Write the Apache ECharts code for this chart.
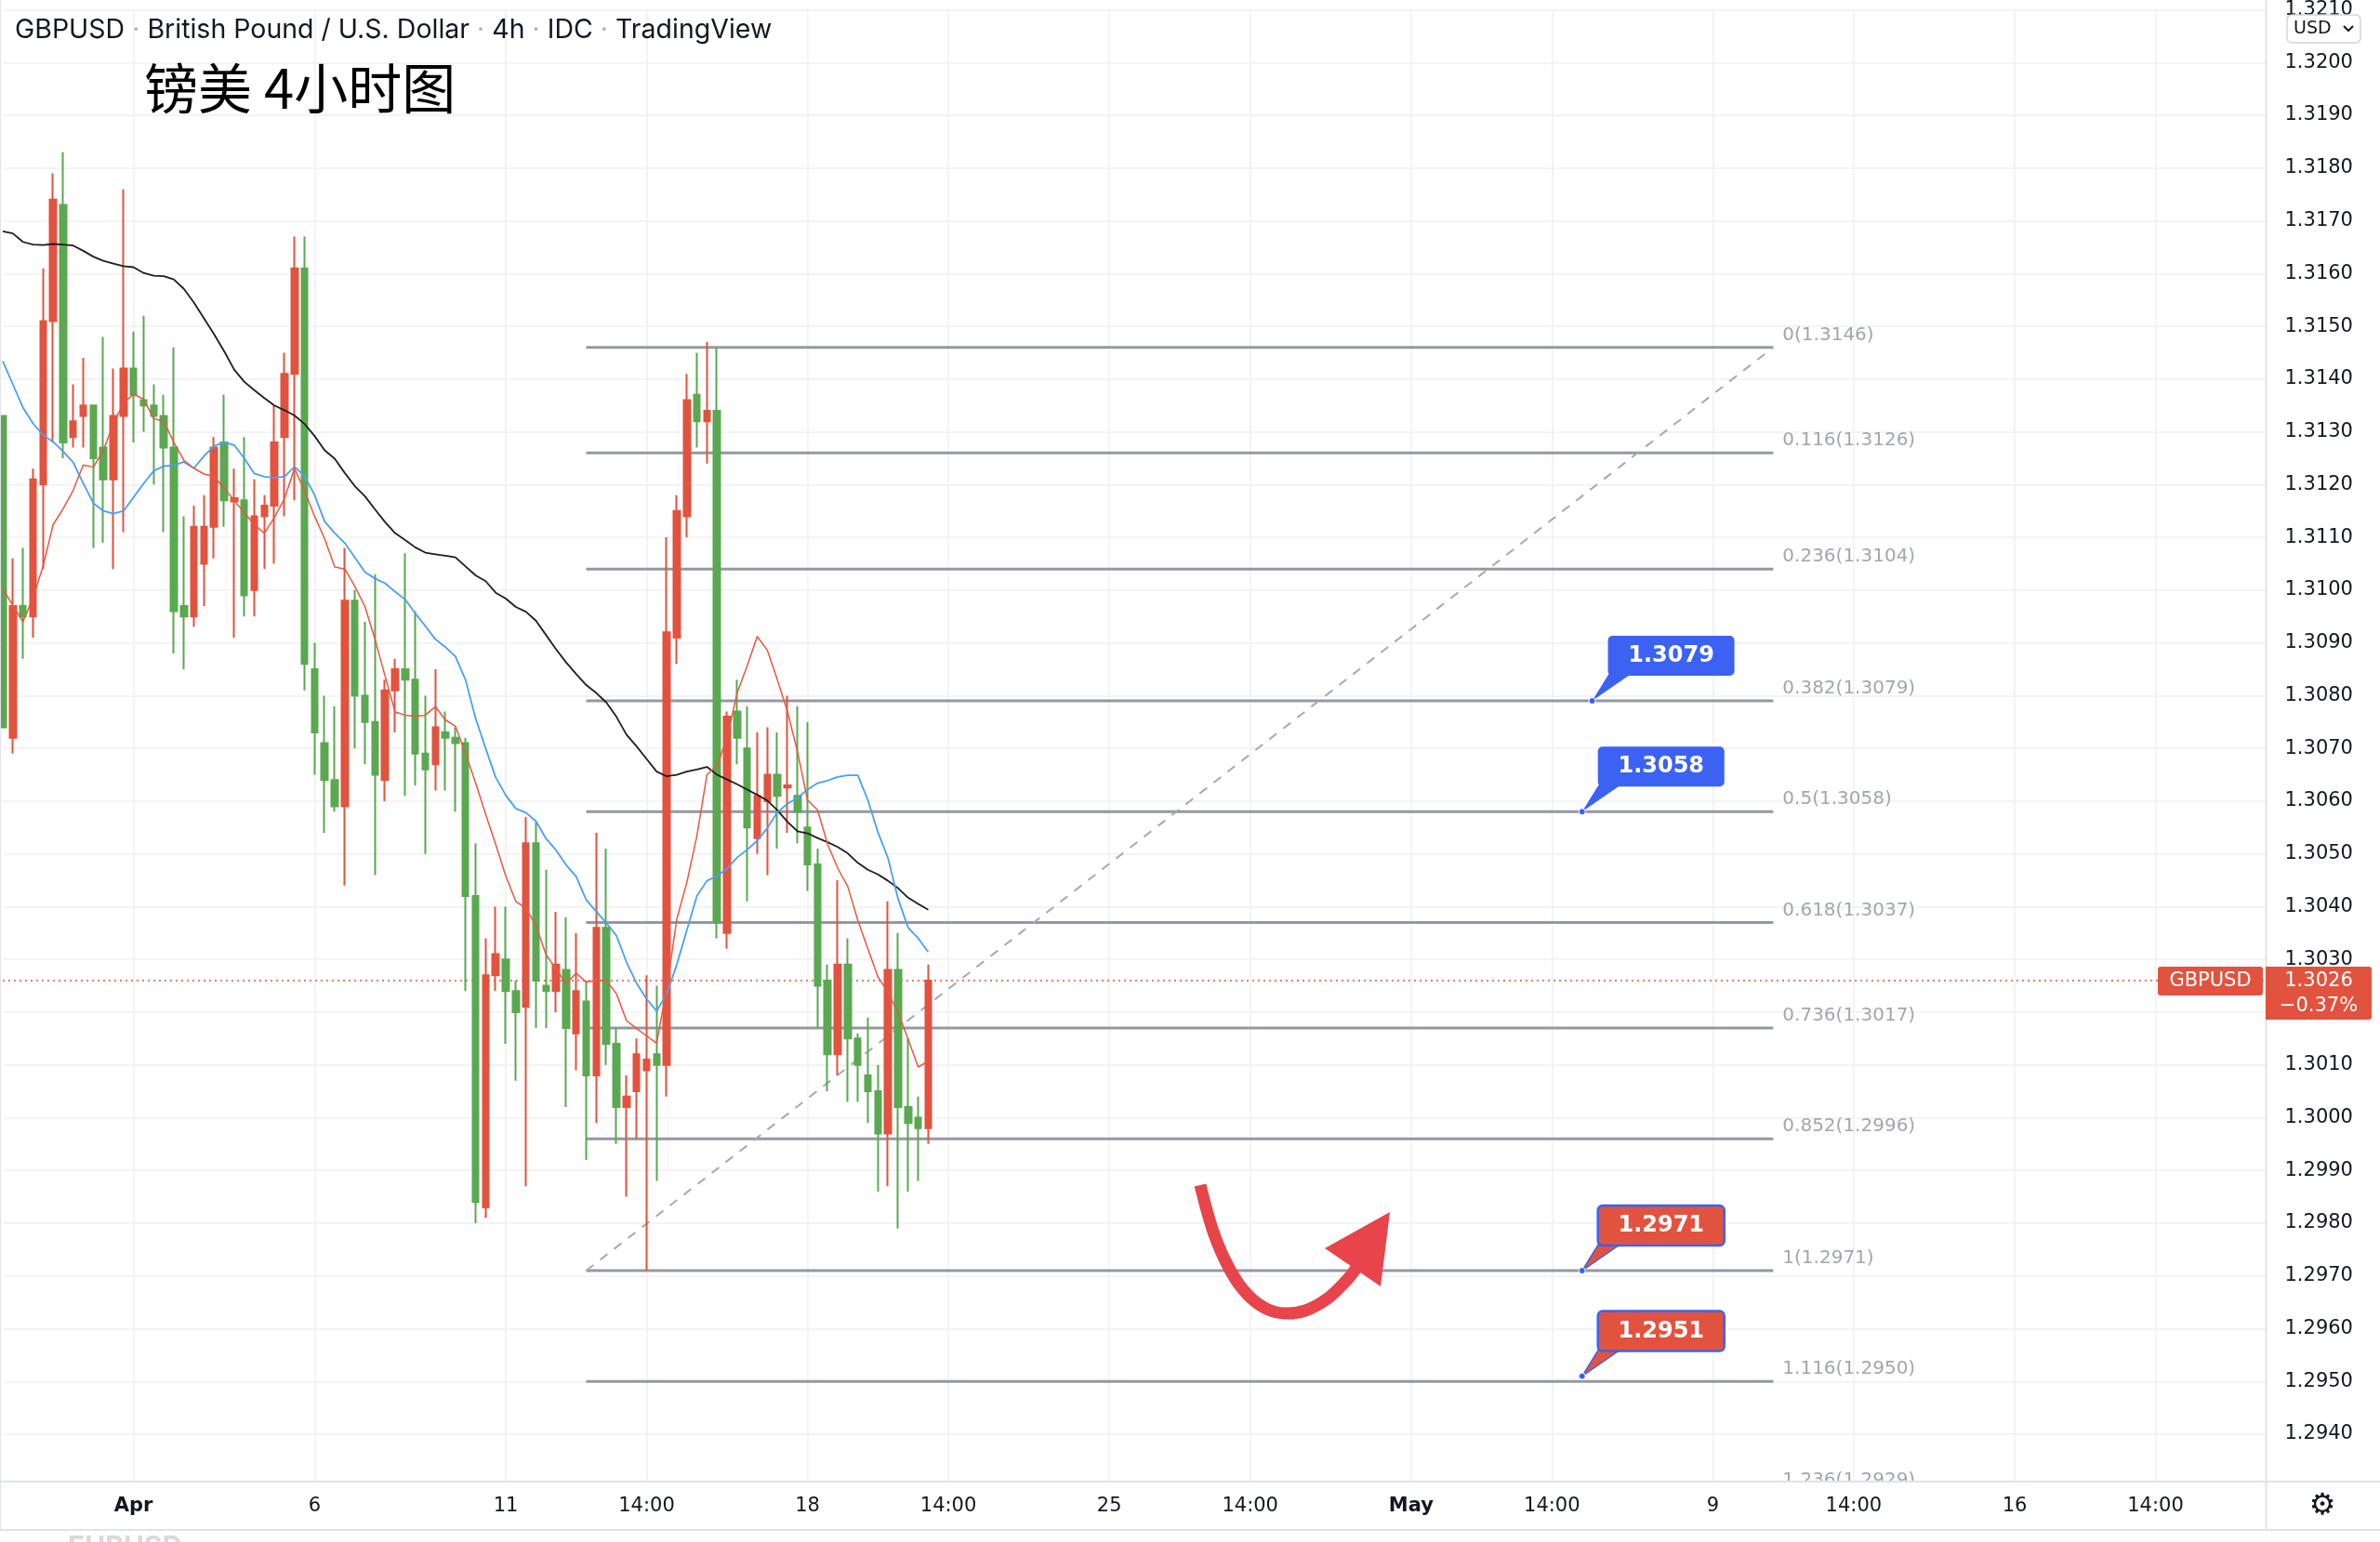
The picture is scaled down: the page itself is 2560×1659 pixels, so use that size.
<!DOCTYPE html>
<html><head><meta charset="utf-8">
<script src="https://cdn.jsdelivr.net/npm/echarts@6/dist/echarts.min.js"></script>
<style>html,body{margin:0;padding:0;background:#fff;overflow:hidden}#c{width:2560px;height:1659px}</style>
</head><body><div id="c"></div>
<script>
// ---------- DATA ----------
const opens = [1.3133,1.3072,1.3097,1.3095,1.3120,1.3151,1.3173,1.3129,1.3133,1.3135,
1.3127,1.3121,1.3133,1.3142,1.3136,1.3135,1.3133,1.3127,1.3097,1.3095,
1.3105,1.3112,1.3128,1.31168,1.3117,1.3100,1.3114,1.3116,1.3129,1.3141,
1.3161,1.3085,1.3071,1.3064,1.3059,1.3098,1.3080,1.3075,1.3064,1.3081,
1.3085,1.3083,1.3069,1.3067,1.3073,1.3072,1.3071,1.3042,1.2983,1.3027,
1.3030,1.3024,1.3021,1.3052,1.3025,1.3024,1.3028,1.3016,1.3022,1.3008,
1.3036,1.3014,1.3002,1.3005,1.3009,1.3012,1.3010,1.3091,1.3114,1.3137,
1.3132,1.3134,1.3035,1.3077,1.3070,1.3053,1.3060,1.3065,1.30626,1.3061,
1.3055,1.3048,1.3026,1.3012,1.3029,1.3015,1.3008,1.3005,1.2997,1.3028,
1.3002,1.3000,1.2998];
const closes = [1.3074,1.3097,1.3095,1.3121,1.3151,1.3174,1.3128,1.3132,1.3135,1.3125,
1.3121,1.3133,1.3142,1.3137,1.3135,1.3133,1.3127,1.3096,1.3095,1.3112,
1.3112,1.3127,1.3117,1.31174,1.3099,1.3114,1.3116,1.3128,1.3141,1.3161,
1.3086,1.3073,1.3064,1.3059,1.3098,1.3080,1.3075,1.3065,1.3081,1.3085,
1.3083,1.3069,1.3066,1.3074,1.3072,1.3071,1.3042,1.2984,1.3027,1.3031,
1.3024,1.3020,1.3052,1.3026,1.3024,1.3029,1.3017,1.3024,1.3008,1.3036,
1.3014,1.3002,1.3004,1.3012,1.3011,1.3010,1.3092,1.3115,1.3136,1.3132,
1.3134,1.3037,1.3076,1.3072,1.3055,1.3061,1.3065,1.3061,1.3063,1.3058,
1.3048,1.3025,1.3012,1.3029,1.3015,1.3010,1.3005,1.2997,1.3028,1.3002,
1.2999,1.2998,1.3026];
const lows = [1.3074,1.3069,1.3087,1.3091,1.3104,1.3128,1.3125,1.3127,1.3127,1.3108,
1.3109,1.3104,1.3111,1.3128,1.3130,1.3120,1.3111,1.3088,1.3085,1.3093,
1.3097,1.3106,1.3112,1.3091,1.3095,1.3095,1.3104,1.3105,1.3114,1.3117,
1.3081,1.3065,1.3054,1.3058,1.3044,1.3070,1.3067,1.3046,1.3060,1.3073,
1.3061,1.3063,1.3050,1.3062,1.3062,1.3058,1.3024,1.2980,1.2981,1.3024,
1.3014,1.3007,1.2987,1.3017,1.3017,1.3020,1.3002,1.3009,1.2992,1.2999,
1.3010,1.2995,1.2985,1.2996,1.2971,1.2988,1.3004,1.3086,1.3110,1.3127,
1.3124,1.3034,1.3032,1.3067,1.3041,1.3050,1.3046,1.3051,1.3054,1.3052,
1.3043,1.3017,1.3005,1.3008,1.3003,1.3003,1.2999,1.2986,1.2987,1.2979,
1.2986,1.2988,1.2995];
const highs = [1.3133,1.3106,1.3108,1.3123,1.3161,1.3179,1.3183,1.3139,1.3144,1.3135,
1.3148,1.3142,1.3176,1.3149,1.3152,1.3139,1.3137,1.3146,1.3114,1.3116,
1.3118,1.3129,1.3137,1.3123,1.3129,1.3121,1.3118,1.3135,1.3145,1.3167,
1.3167,1.3090,1.3080,1.3078,1.3108,1.3100,1.3094,1.3103,1.3083,1.3087,
1.3107,1.3096,1.3080,1.3085,1.3077,1.3074,1.3072,1.3052,1.3034,1.3040,
1.3040,1.3026,1.3057,1.3056,1.3047,1.3039,1.3038,1.3035,1.3026,1.3054,
1.3051,1.3017,1.3008,1.3015,1.3027,1.3025,1.3110,1.3118,1.3141,1.3145,
1.3147,1.3146,1.3077,1.3083,1.3078,1.3073,1.3074,1.3073,1.3080,1.3078,
1.3075,1.3051,1.3029,1.3045,1.3034,1.3016,1.3019,1.3010,1.3041,1.3035,
1.3015,1.3004,1.3029];
const maSlow = [1.3168,1.31676,1.3166,1.31655,1.31654,1.31656,1.31655,1.31653,1.31643,1.31632,
1.31624,1.31619,1.31614,1.31612,1.31601,1.31596,1.31595,1.31589,1.31571,1.31545,
1.31515,1.31485,1.31453,1.31418,1.31395,1.31379,1.31364,1.3135,1.31341,1.31331,
1.31315,1.31292,1.31265,1.31249,1.31222,1.31197,1.31178,1.31153,1.31129,1.31108,
1.31095,1.31081,1.31071,1.31068,1.31065,1.31062,1.31045,1.31028,1.31017,1.30995,
1.30984,1.30968,1.30959,1.30942,1.30915,1.30888,1.30863,1.30841,1.3082,1.30805,
1.30787,1.3076,1.30726,1.30704,1.3068,1.30656,1.30647,1.3065,1.30656,1.3066,
1.30665,1.3065,1.30641,1.30632,1.30622,1.30612,1.30601,1.30583,1.30561,1.30543,
1.30539,1.3053,1.30522,1.30513,1.30501,1.30483,1.3047,1.30461,1.30449,1.30435,
1.30417,1.30405,1.30394];
const maMid = [1.31434,1.3139,1.31346,1.31316,1.31294,1.31281,1.31263,1.31242,1.31202,1.31165,
1.3115,1.31145,1.3115,1.31176,1.31202,1.31226,1.31235,1.31236,1.31243,1.31231,
1.31254,1.31273,1.3128,1.31275,1.3125,1.31221,1.31215,1.31213,1.31215,1.31234,
1.31216,1.3118,1.3113,1.31108,1.31089,1.31062,1.31034,1.31022,1.31013,1.30997,
1.30982,1.30956,1.30932,1.30907,1.30892,1.30874,1.3083,1.30757,1.307,1.30645,
1.30611,1.30586,1.30578,1.30562,1.30529,1.30507,1.30479,1.30457,1.30413,1.30391,
1.30369,1.30345,1.30295,1.30255,1.30225,1.30202,1.30235,1.3029,1.30355,1.3042,
1.30449,1.30458,1.30472,1.30493,1.30508,1.30525,1.30549,1.30579,1.30595,1.30606,
1.30622,1.30634,1.30639,1.30646,1.30649,1.30649,1.30602,1.30541,1.30492,1.30415,
1.3036,1.3034,1.30314];
const maFast = [1.31002,1.30971,1.3094,1.30985,1.31045,1.31124,1.31154,1.31189,1.31237,1.31233,
1.31265,1.31315,1.31355,1.31371,1.31362,1.31325,1.3132,1.3128,1.31246,1.31231,
1.3122,1.31215,1.31193,1.3117,1.31147,1.31124,1.31108,1.31138,1.31173,1.31231,
1.31188,1.3114,1.31097,1.31044,1.3104,1.31007,1.30969,1.30907,1.30837,1.30769,
1.30763,1.30761,1.30763,1.30779,1.30754,1.30742,1.3069,1.30635,1.30575,1.30518,
1.30458,1.3041,1.30397,1.30364,1.30309,1.30282,1.30254,1.30274,1.30257,1.3026,
1.3026,1.30235,1.30184,1.30169,1.30155,1.30141,1.30245,1.30376,1.30446,1.30534,
1.3065,1.30667,1.3072,1.30805,1.30856,1.30912,1.30886,1.3083,1.3077,1.30694,
1.30602,1.30583,1.30518,1.30473,1.30438,1.30374,1.3032,1.30267,1.30237,1.30199,
1.30149,1.30096,1.30107];
const tickIndex = [13,31,50,64,80,94,110,124,140,154,170,184,200,214];
const tickText  = ['Apr','6','11','14:00','18','14:00','25','14:00','May','14:00','9','14:00','16','14:00'];
const fibRatios = ['0','0.116','0.236','0.382','0.5','0.618','0.736','0.852','1','1.116','1.236'];
const fibPrices = [1.3146,1.3126,1.3104,1.3079,1.3058,1.3037,1.3017,1.2996,1.2971,1.2950,1.2929];
const fibStart = 58, fibEnd = 176;
const calloutPrices = [1.3079,1.3058,1.2971,1.2951];
const calloutIndex  = [158,157,157,157];
const calloutKind   = ['blue','blue','red','red'];
const lastPrice = 1.3026, changeText = '\u22120.37%';
const priceTicks = {min:1.2930, max:1.3210, step:0.001};

// ---------- STYLE ----------
const RED='#e2533f', GREEN='#5aa851', BLUE_CALL='#3b62f2', FIBC='#9598a1', GRIDC='#eef0f4';
const FONT='Inter, "Noto Sans", sans-serif';
const AXF='"DejaVu Sans", sans-serif';
const N = 226;
const cats = new Array(N).fill('');
tickIndex.forEach((k,i)=>{cats[k]=tickText[i];});
const labelSet = new Set(tickIndex);

const chart = echarts.init(document.getElementById('c'), null, {renderer:'canvas', width:2560, height:1659});

const series = [];
// last price dotted line
series.push({type:'line', silent:true, symbol:'none', z:1,
  data:[[0,lastPrice],[N-1,lastPrice]],
  lineStyle:{color:RED, type:[2,4], width:1.5}});
fibPrices.forEach((p,i)=>{
  series.push({type:'line', silent:true, clip:false, symbol:'none', z:2,
    data:[[fibStart,p],[fibEnd,p]],
    lineStyle:{color:FIBC, width:3},
    endLabel:{show:true, formatter: fibRatios[i]+'('+p.toFixed(4)+')', color:'#a3a6af', fontSize:20, fontFamily:AXF, distance:10, offset:[0,-13]}
  });
});
series.push({type:'line', silent:true, symbol:'none', z:2,
  data:[[fibStart,fibPrices[8]],[fibEnd,fibPrices[0]]],
  lineStyle:{color:'#a6a9b0', width:2, type:[10,9]}});
series.push({type:'candlestick', z:3, barWidth:7,
  data: opens.map((o,i)=>[o, closes[i], lows[i], highs[i]]),
  itemStyle:{color:RED, color0:GREEN, borderColor:RED, borderColor0:GREEN, borderWidth:2}
});
series.push({type:'line', silent:true, symbol:'none', z:4, data:maSlow, lineStyle:{color:'#1e1e1e', width:1.8}});
series.push({type:'line', silent:true, symbol:'none', z:4, data:maMid, lineStyle:{color:'#4c9ff2', width:1.8}});
series.push({type:'line', silent:true, symbol:'none', z:4, data:maFast, lineStyle:{color:'#e9573f', width:1.5}});

chart.setOption({
  animation:false,
  backgroundColor:'#ffffff',
  grid:{left:0, right:122.5, top:5.045, bottom:59.2},
  xAxis:[{type:'category', data:cats, boundaryGap:false, z:20,
      axisLine:{show:false}, axisTick:{show:false}, splitLine:{show:false},
      axisLabel:{interval:0, margin:10, fontSize:21, color:'#131722', fontFamily:AXF,
        formatter:v=> (v==='Apr'||v==='May') ? '{b|'+v+'}' : v,
        rich:{b:{fontWeight:'bold', fontSize:21, color:'#131722', fontFamily:AXF}}}},
    {type:'category', data:cats, boundaryGap:false, position:'bottom', z:0,
      axisLine:{show:false}, axisTick:{show:false}, axisLabel:{show:false},
      splitLine:{show:true, interval:(i)=>labelSet.has(i), lineStyle:{color:GRIDC, width:1.5}}}],
  yAxis:{type:'value', position:'right', min:priceTicks.min, max:priceTicks.max, interval:priceTicks.step,
    axisLine:{show:false}, axisTick:{show:false},
    axisLabel:{margin:20, fontSize:21, color:'#131722', fontFamily:AXF,
      formatter:v=> v<1.2935 ? '' : v.toFixed(4)},
    splitLine:{lineStyle:{color:GRIDC, width:1.5}}},
  series: series
});

// ---------- annotations ----------
const px = (k,p)=>chart.convertToPixel({gridIndex:0},[k,p]);
const g = [];
g.push({type:'rect', z:10, silent:true, shape:{x:0,y:1594.5,width:2560,height:51}, style:{fill:'#ffffff'}});
g.push({type:'rect', z:10, silent:true, shape:{x:0,y:1646,width:2560,height:13}, style:{fill:'#ffffff'}});
g.push({type:'line', z:11, silent:true, shape:{x1:0,y1:1594,x2:2560,y2:1594}, style:{stroke:'#e0e3eb', lineWidth:2}});
g.push({type:'line', z:11, silent:true, shape:{x1:0,y1:1646,x2:2560,y2:1646}, style:{stroke:'#e0e3eb', lineWidth:2}});
g.push({type:'line', z:11, silent:true, shape:{x1:2437.5,y1:0,x2:2437.5,y2:1646}, style:{stroke:'#e0e3eb', lineWidth:2}});
g.push({type:'line', z:11, silent:true, shape:{x1:0.5,y1:0,x2:0.5,y2:1646}, style:{stroke:'#e0e3eb', lineWidth:1}});
g.push({type:'text', z:11, silent:true, style:{x:73, y:1650, text:'EURUSD', font:'bold 30px '+FONT, fill:'#d8dae0', verticalAlign:'top'}});
g.push({type:'text', z:11, silent:true, style:{x:2498, y:1621, text:'\u2699', font:'32px "DejaVu Sans"', fill:'#131722', align:'center', verticalAlign:'middle'}});
g.push({type:'text', z:12, silent:true, style:{x:16, y:32, text:'GBPUSD {d|\u00b7} British Pound / U.S. Dollar {d|\u00b7} 4h {d|\u00b7} IDC {d|\u00b7} TradingView',
  font:'28.5px '+FONT, fill:'#131722', verticalAlign:'middle', rich:{d:{fill:'#b2b5be', font:'28.5px '+FONT}}}});
g.push({type:'text', z:12, silent:true, style:{x:155, y:95, text:'\u9551\u7f8e 4\u5c0f\u65f6\u56fe', font:'58px "Noto Sans CJK SC"', fill:'#000000', verticalAlign:'middle'}});
g.push({type:'rect', z:12, silent:true, shape:{x:2460,y:16,width:79,height:30,r:5}, style:{fill:'#ffffff', stroke:'#d1d4dc', lineWidth:1.5}});
g.push({type:'text', z:13, silent:true, style:{x:2467, y:31.5, text:'USD', font:'19px '+AXF, fill:'#131722', verticalAlign:'middle'}});
g.push({type:'polyline', z:13, silent:true, shape:{points:[[2521,28],[2526,33],[2531,28]]}, style:{stroke:'#131722', lineWidth:2, fill:null}});
const lp = px(92, lastPrice);
g.push({type:'rect', z:12, silent:true, shape:{x:2321,y:lp[1]-15,width:113,height:31,r:3}, style:{fill:RED}});
g.push({type:'text', z:13, silent:true, style:{x:2377.5, y:lp[1]+0.5, text:'GBPUSD', font:'21px '+AXF, fill:'#ffffff', align:'center', verticalAlign:'middle'}});
g.push({type:'rect', z:12, silent:true, shape:{x:2437,y:lp[1]-15,width:114,height:57,r:[0,3,3,0]}, style:{fill:RED}});
g.push({type:'text', z:13, silent:true, style:{x:2494, y:lp[1]+0.5, text:lastPrice.toFixed(4), font:'21px '+AXF, fill:'#ffffff', align:'center', verticalAlign:'middle'}});
g.push({type:'text', z:13, silent:true, style:{x:2494, y:lp[1]+28, text:changeText, font:'21px '+AXF, fill:'#ffffff', align:'center', verticalAlign:'middle'}});
calloutPrices.forEach((p,i)=>{
  const [x,y] = px(calloutIndex[i], p);
  const bl = x+17, bb = y-27, bt = bb-43, bw = 136;
  const isBlue = calloutKind[i]==='blue';
  const fill = isBlue ? BLUE_CALL : RED;
  g.push({type:'polygon', z:14, silent:true, shape:{points:[[x,y],[bl+1,bb-2],[bl+25,bb-2]]},
    style:{fill:fill, stroke: isBlue? null : BLUE_CALL, lineWidth: isBlue?0:1.5}});
  g.push({type:'rect', z:15, silent:true, shape:{x:bl,y:bt,width:bw,height:43,r:5},
    style:{fill:fill, stroke: isBlue? null : BLUE_CALL, lineWidth: isBlue?0:2.5}});
  g.push({type:'text', z:16, silent:true, style:{x:bl+bw/2, y:bt+22, text:p.toFixed(4), font:'bold 24px '+AXF, fill:'#ffffff', align:'center', verticalAlign:'middle'}});
  g.push({type:'circle', z:16, silent:true, shape:{cx:x, cy:y, r:3.5}, style:{fill:BLUE_CALL, stroke:'#ffffff', lineWidth:1}});
});
g.push({type:'polyline', z:14, silent:true, shape:{smooth:0.35, points:[[1291,1275],[1306,1328],[1324,1368],[1342,1393],[1362,1408],[1382,1413],[1404,1410],[1428,1397],[1448,1378],[1462,1360]]},
  style:{stroke:'#e8444c', lineWidth:13, fill:null, lineCap:'butt'}});
g.push({type:'polygon', z:14, silent:true, shape:{points:[[1425,1343],[1495,1304],[1485,1384]]}, style:{fill:'#e8444c'}});

chart.setOption({graphic:{elements:g}});
</script>
</body></html>
